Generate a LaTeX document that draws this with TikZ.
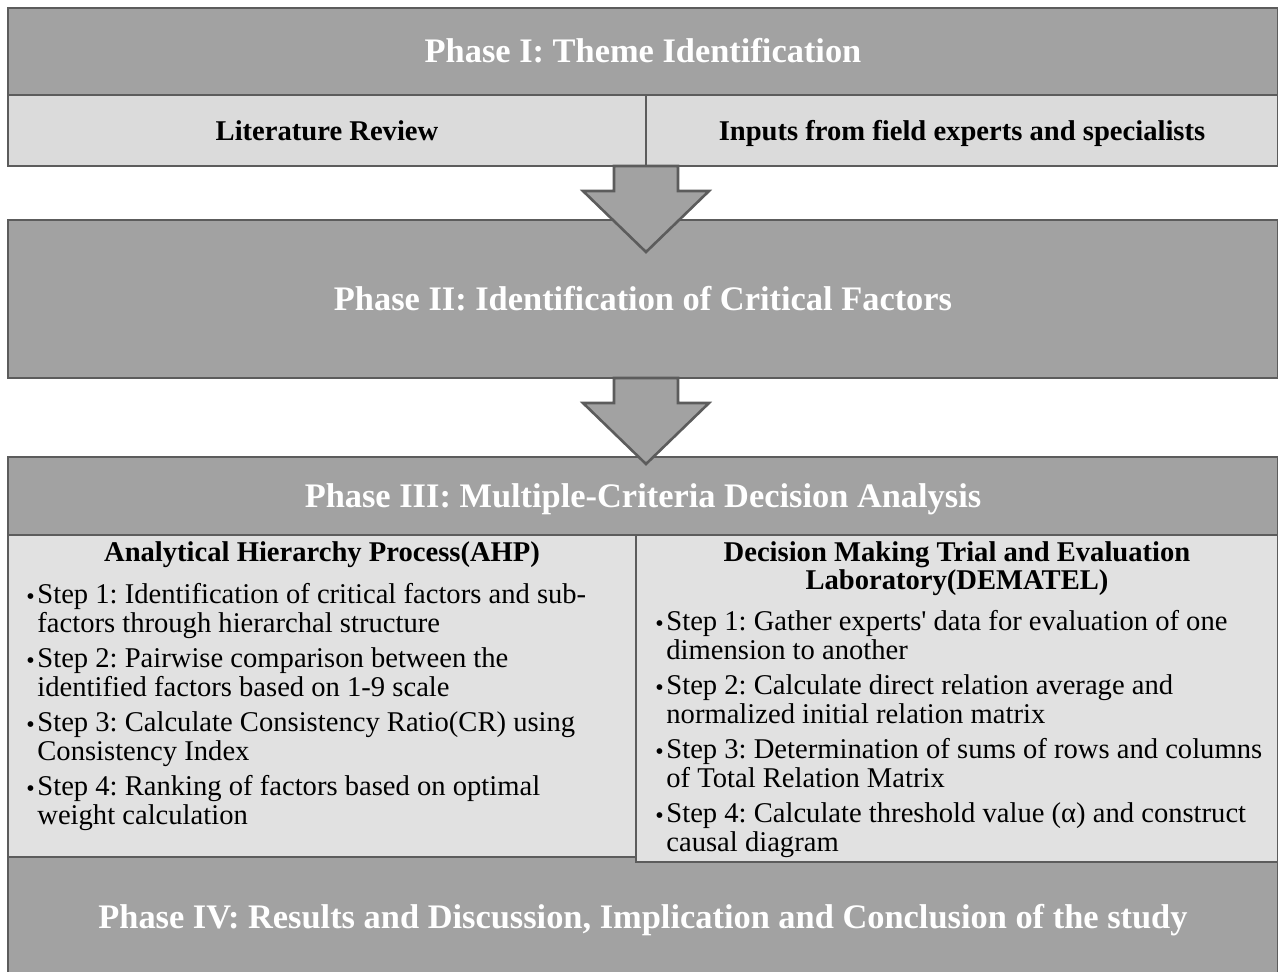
\documentclass[tikz,border=0pt]{standalone}
\usepackage{fontspec}
\setmainfont{Liberation Serif}
\usetikzlibrary{positioning}

\definecolor{phasegray}{HTML}{A2A2A2}
\definecolor{sourcegray}{HTML}{DBDBDB}
\definecolor{panelgray}{HTML}{E1E1E1}
\definecolor{edgegray}{HTML}{5C5C5C}

\newcommand{\stepdot}{\makebox[5.5pt][l]{\raisebox{-0.3pt}{\fontsize{12}{12}\selectfont\textbullet}}}
\newcommand{\stepgap}{\hspace*{5.5pt}}

\begin{document}
\frenchspacing
\begin{tikzpicture}[x=0.5pt,y=-0.5pt,
  phase/.style={draw=edgegray,line width=1.3pt,fill=phasegray,text=white,
    font=\fontsize{17.2}{18}\selectfont\bfseries,anchor=north west,
    inner sep=0pt,outer sep=0pt,minimum width=635pt,text height=11.4pt,text depth=0pt},
  source/.style={draw=edgegray,line width=1.3pt,fill=sourcegray,
    font=\fontsize{14.3}{16}\selectfont\bfseries,anchor=north west,
    inner sep=0pt,outer sep=0pt,minimum height=35.5pt,text height=9.7pt,text depth=0pt},
  panel/.style={draw=edgegray,line width=1.3pt,fill=panelgray,anchor=north west,
    inner sep=0pt,outer sep=0pt},
  head/.style={font=\fontsize{14.3}{14}\selectfont\bfseries,align=center,inner sep=0pt},
  steps/.style={font=\fontsize{14.3}{14.5}\selectfont,align=left,inner sep=0pt,anchor=north west},
  flow/.style={draw=edgegray,line width=1.3pt,fill=phasegray,line join=miter}]
\useasboundingbox (0,0) rectangle (1278,971);

% phase bands
\node[phase,minimum height=43.5pt] (p1) at (8,8) {Phase I: Theme Identification};
\node[source,minimum width=319pt] (lit) at (8,95) {Literature Review};
\node[source,minimum width=316pt] (inp) at (646,95) {Inputs from field experts and specialists};
\node[phase,minimum height=79pt] (p2) at (8,220) {Phase II: Identification of Critical Factors};
\node[phase,minimum height=39pt] (p3) at (8,457) {Phase III: Multiple-Criteria Decision Analysis};
\node[panel,minimum width=314pt,minimum height=161pt] (ahp) at (8,535) {};
\node[phase,minimum height=60pt] (p4) at (8,857) {Phase IV: Results and Discussion, Implication and Conclusion of the study};
\node[panel,minimum width=321pt,minimum height=163.5pt] (dem) at (636,535) {};

% AHP
\node[head,below=2.9pt of ahp.north] (ahph) {Analytical Hierarchy Process(AHP)};
\node[steps] (ahps) at (26,583) {%
\stepdot Step 1: Identification of critical factors and sub-\\
\stepgap factors through hierarchal structure\\[3pt]
\stepdot Step 2: Pairwise comparison between the\\
\stepgap identified factors based on 1-9 scale\\[3pt]
\stepdot Step 3: Calculate Consistency Ratio(CR) using\\
\stepgap Consistency Index\\[3pt]
\stepdot Step 4: Ranking of factors based on optimal\\
\stepgap weight calculation};

% DEMATEL
\node[head,below=2.9pt of dem.north] (demh) {Decision Making Trial and Evaluation\\Laboratory(DEMATEL)};
\node[steps] (dems) at (655,610) {%
\stepdot Step 1: Gather experts\textquotesingle{} data for evaluation of one\\
\stepgap dimension to another\\[3pt]
\stepdot Step 2: Calculate direct relation average and\\
\stepgap normalized initial relation matrix\\[3pt]
\stepdot Step 3: Determination of sums of rows and columns\\
\stepgap of Total Relation Matrix\\[3pt]
\stepdot Step 4: Calculate threshold value (α) and construct\\
\stepgap causal diagram};

% block arrows
\foreach \from in {lit.south east, p2.south -| lit.south east}
  \draw[flow] (\from) ++(-32,0) -- ++(64,0) -- ++(0,25) -- ++(31,0)
    -- ++(-63,61) -- ++(-63,-61) -- ++(31,0) -- cycle;
\end{tikzpicture}
\end{document}
